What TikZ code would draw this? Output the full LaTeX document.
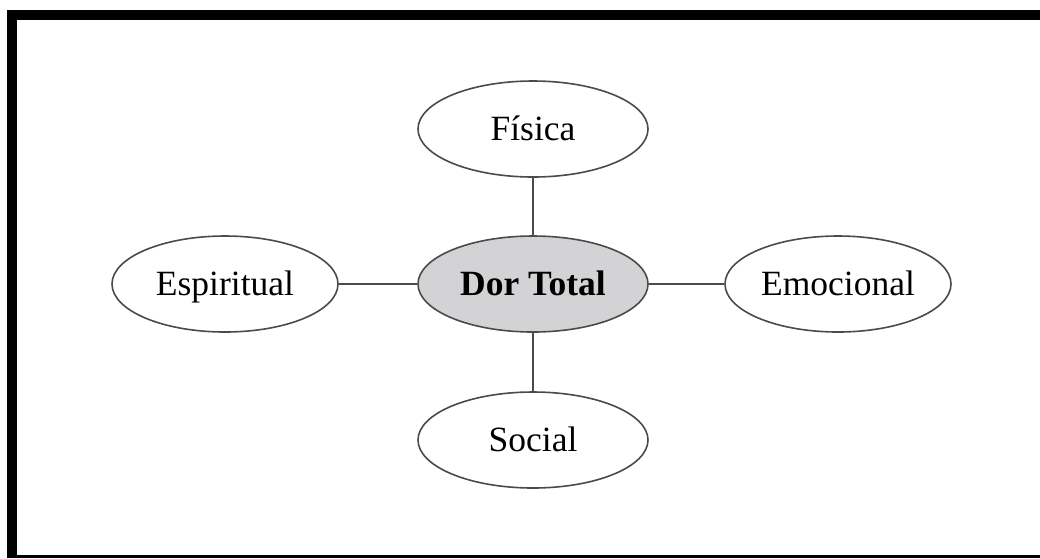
\documentclass[tikz,border=0pt]{standalone}
\usepackage{fontspec}
\setmainfont{Liberation Serif}
\usetikzlibrary{shapes.geometric}
\definecolor{ringgray}{RGB}{75,75,75}
\definecolor{centerfill}{RGB}{211,211,213}
\begin{document}
\begin{tikzpicture}[x=1pt,y=-1pt,
  bubble/.style={ellipse, draw=ringgray, line width=1.6pt, fill=white, minimum width=230pt, minimum height=96pt, inner sep=0pt, text height=28pt, text depth=6pt, font=\fontsize{35.5}{38}\selectfont},
  hub/.style={bubble, fill=centerfill, font=\fontsize{35.5}{38}\selectfont\bfseries},
  link/.style={draw=ringgray, line width=1.6pt}]
\useasboundingbox (0,0) rectangle (1040,558);
\fill[white] (0,0) rectangle (1040,558);
% frame
\fill[black] (7,10) rectangle (1040,20);
\fill[black] (7,10) rectangle (17,558);
\fill[black] (7,555) rectangle (1040,558);
% nodes
\node[hub] (d) at (533,284) {Dor Total};
\node[bubble] (f) at (533,129) {Física};
\node[bubble] (s) at (533,440) {Social};
\node[bubble, minimum width=226pt] (e) at (225,284) {Espiritual};
\node[bubble, minimum width=226pt] (m) at (838,284) {Emocional};
% connectors
\draw[link] (f) -- (d);
\draw[link] (d) -- (s);
\draw[link] (e) -- (d);
\draw[link] (d) -- (m);
\end{tikzpicture}
\end{document}
